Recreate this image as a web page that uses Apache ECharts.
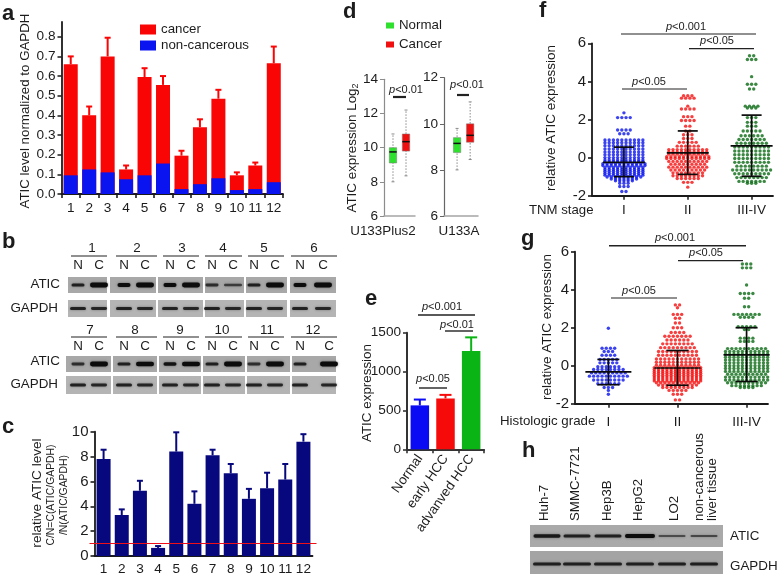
<!DOCTYPE html>
<html><head><meta charset="utf-8">
<style>html,body{margin:0;padding:0;background:#fff}#c{width:778px;height:576px}</style>
<script src="https://cdn.jsdelivr.net/npm/echarts@6/dist/echarts.min.js"></script>
</head><body><div id="c"></div>
<script>
// ---------- data ----------
const samples = ['1','2','3','4','5','6','7','8','9','10','11','12'];
const aCancer = [0.66,0.40,0.70,0.125,0.595,0.555,0.195,0.34,0.485,0.095,0.145,0.665];
const aCancerTop = [0.70,0.445,0.795,0.145,0.64,0.60,0.22,0.38,0.53,0.11,0.16,0.75];
const aNormal = [0.095,0.125,0.11,0.075,0.095,0.155,0.025,0.05,0.08,0.02,0.025,0.06];
const aTicks = [0,0.1,0.2,0.3,0.4,0.5,0.6,0.7,0.8];
const cRatio = [7.8,3.3,5.25,0.65,8.4,4.2,8.1,6.65,4.6,5.45,6.15,9.2];
const cTop = [8.55,3.75,6.05,0.8,9.95,5.2,8.55,7.4,5.4,6.7,7.4,9.8];
const cThreshold = 1;
// [x, low whisker, q1, median, q3, high whisker]
const dPlusNormal = [[1,8.0,9.1,9.75,10.0,10.8]];
const dPlusCancer = [[2,8.35,9.8,10.35,10.8,12.2]];
const dANormal = [[1,8.0,8.75,9.15,9.4,9.8]];
const dACancer = [[2,8.45,9.2,9.5,10.0,10.95]];
const eGroups = ['Normal','early HCC','advanved HCC'];
const eValues = [565,655,1265];
const eTops = [640,700,1440];
// beeswarm rows: [value, number of dots in that row]
const fI = [[2.35,1],[2.1,4],[1.45,4],[1.25,3],[0.92,10],[0.78,10],[0.62,10],[0.45,10],[0.3,10],[0.15,10],[0,10],[-0.12,10],[-0.22,10],[-0.32,11],[-0.42,11],[-0.52,10],[-0.62,10],[-0.72,10],[-0.82,10],[-0.92,10],[-1.02,9],[-1.12,7],[-1.22,5],[-1.35,3],[-1.52,3],[-1.78,2]];
const fII = [[3.25,3],[3.12,4],[2.7,1],[2.55,4],[2.15,3],[1.95,4],[1.65,2],[1.4,2],[1.2,3],[1.0,3],[0.8,5],[0.6,6],[0.42,10],[0.3,10],[0.18,10],[0.05,11],[-0.05,11],[-0.2,10],[-0.35,9],[-0.5,10],[-0.65,9],[-0.8,8],[-0.95,8],[-1.1,6],[-1.3,3],[-1.55,1]];
const fIII = [[5.35,2],[5.15,3],[4.25,1],[3.85,3],[3.6,2],[2.7,4],[2.6,3],[2.1,3],[1.85,3],[1.65,3],[1.4,5],[1.15,6],[0.95,7],[0.75,8],[0.55,9],[0.35,9],[0.15,9],[-0.05,9],[-0.25,9],[-0.45,8],[-0.65,10],[-0.85,9],[-1.05,8],[-1.25,7],[-1.35,3]];
const gI = [[1.97,1],[0.92,4],[0.75,3],[0.55,4],[0.33,5],[0.15,5],[-0.05,6],[-0.2,8],[-0.38,9],[-0.55,10],[-0.75,8],[-0.95,6],[-1.15,3],[-1.3,1],[-1.5,1]];
const gII = [[3.2,2],[3.05,1],[2.7,3],[2.5,2],[2.25,2],[2.0,3],[1.75,4],[1.55,7],[1.35,6],[1.15,8],[0.95,9],[0.75,10],[0.55,10],[0.35,11],[0.18,11],[0.02,11],[-0.1,12],[-0.2,12],[-0.3,12],[-0.4,12],[-0.5,12],[-0.6,12],[-0.7,12],[-0.8,12],[-0.9,11],[-1.02,10],[-1.15,8],[-1.3,5],[-1.5,3],[-1.8,2]];
const gIII = [[5.35,3],[5.15,3],[4.25,1],[3.8,4],[3.55,2],[3.1,2],[2.7,7],[2.55,4],[2.05,5],[1.9,2],[1.45,4],[1.28,4],[0.9,10],[0.75,11],[0.6,11],[0.45,11],[0.3,11],[0.15,11],[0,11],[-0.15,11],[-0.3,11],[-0.45,10],[-0.6,11],[-0.75,11],[-0.9,10],[-1.05,8],[-1.15,4]];
// [x, mean, lower, upper]
const fStats = [[1,-0.25,-1.0,0.55],[2,0.25,-0.88,1.4],[3,0.62,-0.98,2.23]];
const gStats = [[1,-0.33,-1.0,0.33],[2,-0.12,-1.03,0.8],[3,0.57,-0.83,2.0]];
const swarmLabels = ['I','II','III-IV'];
// western blot band strengths
const blotTop = [[.5,1],[.8,1],[.7,1],[.4,.3],[.5,1],[.8,1]];
const blotBottom = [[.4,1],[.5,.9],[.6,.9],[.5,1],[.4,1],[.5,1]];
const blotH = [.9,.8,.8,1.2,.35,.4];
const cellLines = ['Huh-7','SMMC-7721','Hep3B','HepG2','LO2','non-cancerous','liver tissue'];

// ---------- helpers ----------
const FF = '"Liberation Sans",Arial,sans-serif';
const INK = '#1c1c1c';
const g = [];
function txt(text,x,y,size,o){o=o||{};
  g.push({type:'text',x,y,rotation:o.rot||0,z:20,style:{text,fontFamily:FF,fontSize:size,fontWeight:o.bold?'bold':'normal',
    fill:INK,textAlign:o.align||'center',textVerticalAlign:'middle',rich:o.rich}});}
function hline(x1,x2,y,w,c){g.push({type:'line',z:20,shape:{x1,y1:y,x2,y2:y},style:{stroke:c||'#222',lineWidth:w||1.3}});}
function pval(v,x,y){txt('{i|p}{n|<'+v+'}',x,y,11,{rich:{i:{fontStyle:'italic',fontFamily:FF,fontSize:11,fill:INK},n:{fontFamily:FF,fontSize:11,fill:INK}}});}
function vtxt(t,x,y,s){txt(t,x,y,s||13.4,{rot:Math.PI/2});}
function rect(x,y,w,h,c){g.push({type:'rect',z:5,shape:{x,y,width:w,height:h},style:{fill:c}});}
function band(cx,cy,w,s){
  const h=1.4+3.4*s;
  g.push({type:'rect',z:6,shape:{x:cx-w/2,y:cy-h/2,width:w,height:h,r:h/2},
    style:{fill:'rgba(12,12,12,'+(0.3+0.7*Math.min(1,s*1.5))+')',shadowBlur:2.5,shadowColor:'rgba(40,40,40,.6)'}});
}
function axisCommon(c,w){return {axisLine:{show:true,onZero:false,lineStyle:{color:c,width:w}},axisTick:{show:true,length:4,lineStyle:{color:c,width:w>1.5?1.6:1}}};}
function errRender(color,cap,lw){return function(p,api){
  const x=api.coord([api.value(0),0])[0];
  const y1=api.coord([api.value(0),api.value(1)])[1], y2=api.coord([api.value(0),api.value(2)])[1];
  const st={stroke:color,lineWidth:lw};
  return {type:'group',children:[
    {type:'line',shape:{x1:x,y1,x2:x,y2},style:st},
    {type:'line',shape:{x1:x-cap,y1:y2,x2:x+cap,y2},style:st}]};};}
function boxRender(fill){return function(p,api){
  const X=api.value(0),cx=api.coord([X,0])[0],Y=i=>api.coord([X,api.value(i)])[1];
  const dash={stroke:'#8a8a8a',lineWidth:1,lineDash:[1.5,1.5]},cap={stroke:'#8a8a8a',lineWidth:1};
  return {type:'group',children:[
    {type:'line',shape:{x1:cx,y1:Y(1),x2:cx,y2:Y(5)},style:dash},
    {type:'line',shape:{x1:cx-1.5,y1:Y(1),x2:cx+1.5,y2:Y(1)},style:cap},
    {type:'line',shape:{x1:cx-1.5,y1:Y(5),x2:cx+1.5,y2:Y(5)},style:cap},
    {type:'rect',shape:{x:cx-3.7,y:Y(4),width:7.4,height:Y(2)-Y(4)},style:{fill,stroke:'#7a7a7a',lineWidth:.5}},
    {type:'line',shape:{x1:cx-3.7,y1:Y(3),x2:cx+3.7,y2:Y(3)},style:{stroke:'#111',lineWidth:1.5}}]};};}
function statRender(meanHalf,capHalf){return function(p,api){
  const X=api.value(0),px=api.coord([X,0])[0],Y=i=>api.coord([X,api.value(i)])[1];
  const st={stroke:'#0a0a0a',lineWidth:1.7};
  const ln=(a,b,c,d)=>({type:'line',shape:{x1:a,y1:b,x2:c,y2:d},style:st});
  return {type:'group',children:[ln(px,Y(2),px,Y(3)),ln(px-meanHalf,Y(1),px+meanHalf,Y(1)),
    ln(px-capHalf,Y(2),px+capHalf,Y(2)),ln(px-capHalf,Y(3),px+capHalf,Y(3))]};};}
function swarm(rows,center,dx){const out=[];rows.forEach(([v,n])=>{for(let i=0;i<n;i++)out.push([center+(i-(n-1)/2)*dx,v]);});return out;}

// ---------- text and blots ----------
[['a',2,14],['b',2,242],['c',2,427],['d',343,12],['e',365,299],['f',539,11],['g',521,239],['h',522,451]]
 .forEach(([t,x,y])=>txt(t,x,y,22,{bold:true,align:'left'}));
vtxt('ATIC level normalized to GAPDH',25,111,13.3);
vtxt('relative ATIC level',37,493,13.6);
vtxt('C/N=C(ATIC/GAPDH)',51,495,10.4);
vtxt('/N(ATIC/GAPDH)',64,495,10.4);
g.push({type:'text',x:352,y:148,rotation:Math.PI/2,z:20,style:{text:'{a|ATIC expression Log}{b|2}',textAlign:'center',textVerticalAlign:'middle',
  rich:{a:{fontFamily:FF,fontSize:13.4,fill:INK},b:{fontFamily:FF,fontSize:9,fill:INK,verticalAlign:'bottom',padding:[8,0,0,0]}}}});
vtxt('ATIC expression',367,393);
vtxt('relative ATIC expression',551,118,13.5);
vtxt('relative ATIC expression',547,327,13.5);
txt('U133Plus2',383,231,13.4); txt('U133A',459,231,13.4);
txt('TNM stage',529,210,13.2,{align:'left'});
txt('Histologic grade',500,421,13.3,{align:'left'});

pval('0.01',406,90); hline(393,406,97,2.2);
pval('0.01',467,85); hline(457,469,95,2.2);
pval('0.001',442,307); hline(418,475,315,1.4);
pval('0.01',457,325); hline(445,473,331,1.4);
pval('0.05',433,379); hline(419,447,388,1.4);
pval('0.001',686,27); hline(621,756,34,1.2);
pval('0.05',717,41); hline(689,754,48.7,1.2);
pval('0.05',649,82); hline(622,687,89,1.2);
pval('0.001',675,238); hline(609,746,245.7,1.4);
pval('0.05',706,253); hline(678,743,260.7,1.2);
pval('0.05',639,291); hline(611,677,298,1.2);

// panel b
const segTop=[[68,107],[110,156],[158,203],[205,244],[246,287],[290,336]];
const segBot=[[66,111],[113,157],[159,201],[203,245],[247,290],[292,336]];
const rulesTop=[[71,107],[116,157],[163,199],[205,242],[248,284],[291,337]];
const numTopX=[92,137,182,223,264,314], numBotX=[90,135,180,222,267,313];
const laneTop=[[78,99],[124,145],[170,191],[212,233],[254,275],[300,323]];
const laneBot=[[78,99],[124,145],[170,191],[212,233],[254,275],[300,329]];
function blotRow(labels,xs,rules,lanes,segs,yNum,yRule,yLab,yA,hA,yG,hG,bands){
  labels.forEach((l,i)=>{
    txt(l,xs[i],yNum,13.4); hline(rules[i][0],rules[i][1],yRule,1.2);
    txt('N',lanes[i][0],yLab,13.4); txt('C',lanes[i][1],yLab,13.4);
    rect(segs[i][0],yA,segs[i][1]-segs[i][0],hA,'#a8a8a8');
    rect(segs[i][0],yG,segs[i][1]-segs[i][0],hG,'#b4b4b4');
    band(lanes[i][0],yA+hA/2,13,bands[i][0]); band(lanes[i][1],yA+hA/2,18,bands[i][1]);
    band(lanes[i][0],yG+hG/2,16,.5); band(lanes[i][1],yG+hG/2,16,.46);
  });
}
blotRow(samples.slice(0,6),numTopX,rulesTop,laneTop,segTop,248,256,265,277,16,300,17,blotTop);
blotRow(samples.slice(6),numBotX,rulesTop,laneBot,segBot,330,337,346,356,16,376,18,blotBottom);
txt('ATIC',60,284,13.4,{align:'right'}); txt('GAPDH',58,308,13.4,{align:'right'});
txt('ATIC',60,361,13.4,{align:'right'}); txt('GAPDH',58,384,13.4,{align:'right'});

// panel h
rect(530,525,193,22,'#a9a9a9'); rect(530,551,193,23,'#a4a4a4');
[547,577,608,640,672,704].forEach((x,i)=>{band(x,536,i==3?30:27,blotH[i]*.62);band(x,564,28,.5);});
[[544,521],[575,521],[607,521],[638,521],[674,521],[699,521],[712,521]].forEach(([x,y],i)=>
  g.push({type:'text',x,y,rotation:Math.PI/2,z:20,style:{text:cellLines[i],fontFamily:FF,fontSize:13.3,fill:INK,textAlign:'left',textVerticalAlign:'middle'}}));
txt('ATIC',730,536,13.4,{align:'left'}); txt('GAPDH',730,566,13.4,{align:'left'});

// ---------- chart ----------
const grid=[
 {left:61.5,top:22,width:221.5,height:172},
 {left:94.5,top:431.7,width:218,height:129.3},
 {left:384,top:79.3,width:31,height:136.7},
 {left:444,top:77.7,width:34,height:138.3},
 {left:407,top:332.7,width:77,height:116.6},
 {left:592,top:43.3,width:181,height:152.4},
 {left:575,top:251.7,width:193,height:152}];
const lab=s=>({fontFamily:FF,fontSize:s,color:INK});
const swLabel={...lab(13.6),margin:8,customValues:[1,2,3],formatter:v=>swarmLabels[v-1]};
const plain=v=>String(v);
const xAxis=[
 {gridIndex:0,type:'category',data:samples,...axisCommon('#1a1a1a',1.8),axisLabel:{...lab(13.6),margin:7,interval:0}},
 {gridIndex:1,type:'category',data:samples,...axisCommon('#1a1a1a',1.8),axisLabel:{...lab(13.6),margin:6,interval:0},axisTick:{show:false}},
 {gridIndex:2,type:'value',min:0.31,max:2.69,splitLine:{show:false},axisLine:{onZero:false,lineStyle:{color:'#a5a5a5',width:1.5}},axisTick:{show:false},axisLabel:{show:false}},
 {gridIndex:3,type:'value',min:0,max:2.6,splitLine:{show:false},axisLine:{onZero:false,lineStyle:{color:'#a5a5a5',width:1.5}},axisTick:{show:false},axisLabel:{show:false}},
 {gridIndex:4,type:'category',data:eGroups,...axisCommon('#333',2),axisLabel:{...lab(13.4),rotate:55,margin:7,interval:0}},
 {gridIndex:5,type:'value',min:0.5,max:3.335,splitLine:{show:false},axisLine:{onZero:false,lineStyle:{color:'#1a1a1a',width:1.8}},
  axisTick:{show:true,length:4,customValues:[1,2,3],lineStyle:{color:'#1a1a1a',width:1.5}},axisLabel:swLabel},
 {gridIndex:6,type:'value',min:0.517,max:3.31,splitLine:{show:false},axisLine:{onZero:false,lineStyle:{color:'#1a1a1a',width:1.8}},
  axisTick:{show:true,length:4,customValues:[1,2,3],lineStyle:{color:'#1a1a1a',width:1.5}},axisLabel:{...swLabel,margin:12}}];
const yv=(i,min,max,interval,s,c,w,extra)=>({gridIndex:i,type:'value',min,max,interval,splitLine:{show:false},...axisCommon(c,w),axisLabel:{...lab(s),margin:6,formatter:plain},...extra});
const yAxis=[
 yv(0,0,0.875,0.1,13.6,'#1a1a1a',1.8,{axisTick:{show:true,length:4,customValues:aTicks,lineStyle:{color:'#1a1a1a',width:1.5}},
   axisLabel:{...lab(13.6),margin:6,customValues:aTicks,formatter:v=>v.toFixed(1)}}),
 yv(1,0,10,2,15,'#1a1a1a',1.8),
 yv(2,6,14,2,13.6,'#8c8c8c',1.2),
 yv(3,6,12,2,13.6,'#666',1.2),
 yv(4,0,1500,500,13.6,'#333',2),
 yv(5,-2,6,2,15,'#1a1a1a',1.8),
 yv(6,-2,6,2,15,'#1a1a1a',1.8)];
const ax=i=>({xAxisIndex:i,yAxisIndex:i});
const zip=(a,b,c)=>a.map((v,i)=>[i,b[i],c[i]]);
const series=[
 {name:'cancer',type:'bar',...ax(0),data:aCancer,barWidth:14,barGap:'-100%',itemStyle:{color:'#fa0505'},z:2},
 {name:'non-cancerous',type:'bar',...ax(0),data:aNormal,barWidth:14,barGap:'-100%',itemStyle:{color:'#0a14f0'},z:3},
 {type:'custom',...ax(0),data:zip(aCancer,aCancer,aCancerTop),renderItem:errRender('#fa0505',3,2),encode:{x:0,y:[1,2]},z:1},
 {type:'bar',...ax(1),data:cRatio,barWidth:14,itemStyle:{color:'#08087e'},z:2},
 {type:'custom',...ax(1),data:zip(cRatio,cRatio,cTop),renderItem:errRender('#08087e',3,2),encode:{x:0,y:[1,2]},z:1},
 {type:'custom',...ax(1),data:[[0,cThreshold]],encode:{x:0,y:1},z:5,renderItem:(p,api)=>{
   const y=api.coord([0,api.value(1)])[1];
   return {type:'line',shape:{x1:p.coordSys.x-5,y1:y,x2:p.coordSys.x+p.coordSys.width+4,y2:y},style:{stroke:'#ee1018',lineWidth:1.1}};}},
 {name:'Normal',type:'custom',...ax(2),data:dPlusNormal,itemStyle:{color:'#2fe02f'},renderItem:boxRender('#2fe02f'),encode:{x:0,y:[1,2,3,4,5]}},
 {name:'Cancer',type:'custom',...ax(2),data:dPlusCancer,itemStyle:{color:'#f01010'},renderItem:boxRender('#f01010'),encode:{x:0,y:[1,2,3,4,5]}},
 {type:'custom',...ax(3),data:dANormal,renderItem:boxRender('#2fe02f'),encode:{x:0,y:[1,2,3,4,5]}},
 {type:'custom',...ax(3),data:dACancer,renderItem:boxRender('#f01010'),encode:{x:0,y:[1,2,3,4,5]}},
 {type:'bar',...ax(4),barWidth:18.5,z:2,data:eValues.map((v,i)=>({value:v,itemStyle:{color:['#0a0af5','#f70a0a','#0ab414'][i]}}))},
 ...eValues.map((v,i)=>({type:'custom',...ax(4),data:[[i,v,eTops[i]]],renderItem:errRender(['#0a0af5','#f70a0a','#0ab414'][i],6,2),encode:{x:0,y:[1,2]},z:1})),
];
[[fI,fII,fIII,5,0.066,fStats,21,10],[gI,gII,gIII,6,0.061,gStats,23,11]].forEach(([a,b,c,i,dx,stats,mh,ch])=>{
  [[a,1,'#0a14ee'],[b,2,'#f50f0f'],[c,3,'#0a6a14']].forEach(([rows,cx,col])=>
    series.push({type:'scatter',...ax(i),data:swarm(rows,cx,dx),symbolSize:3.4,itemStyle:{color:col},z:2}));
  series.push({type:'custom',...ax(i),data:stats,renderItem:statRender(mh,ch),encode:{x:0,y:[1,2,3]},z:6});
});
const chart=echarts.init(document.getElementById('c'),null,{renderer:'canvas'});
chart.setOption({animation:false,backgroundColor:'#fff',grid,xAxis,yAxis,series,
 legend:[
  {data:['cancer','non-cancerous'],left:135,top:18,orient:'vertical',icon:'rect',itemWidth:16,itemHeight:10,itemGap:3,selectedMode:false,textStyle:{...lab(13.3)}},
  {data:['Normal','Cancer'],left:381,top:14,orient:'vertical',icon:'rect',itemWidth:8,itemHeight:6,itemGap:6,selectedMode:false,textStyle:{...lab(13.3)}}],
 graphic:g});
</script></body></html>
